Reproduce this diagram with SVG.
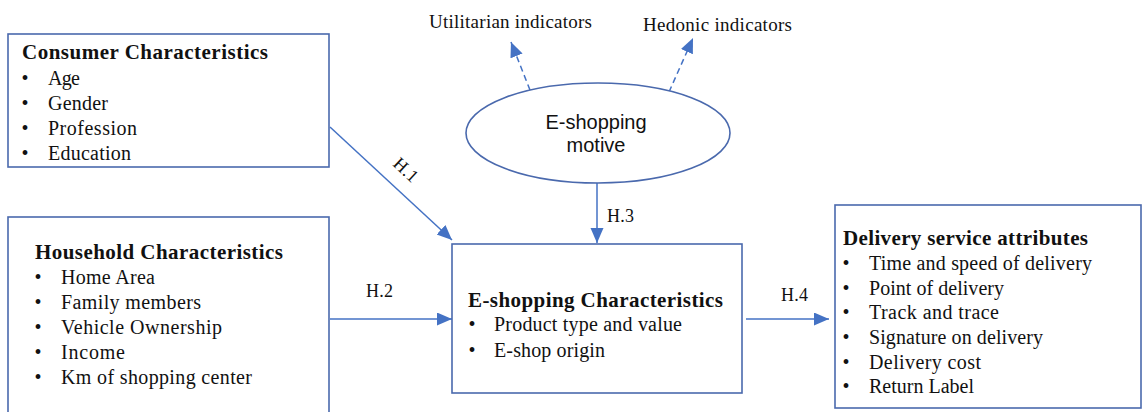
<svg xmlns="http://www.w3.org/2000/svg" width="1142" height="412" viewBox="0 0 1142 412">
<style>
.box{fill:#fff;stroke:#4A69AD;stroke-width:1.6}
.t{font-family:"Liberation Serif","Times New Roman",serif;font-size:20px;fill:#111}
.b{font-weight:bold;font-size:21px}
.s{font-family:"Liberation Sans",Arial,sans-serif;font-size:20px;fill:#111}
.ind{font-size:19px}
.lab{font-size:18px}
.con{stroke:#4472C4;stroke-width:1.5;fill:none}
.dash{stroke-dasharray:6 4}
</style>
<defs>
<marker id="ah" markerUnits="userSpaceOnUse" markerWidth="16" markerHeight="14" refX="15" refY="6.5" orient="auto">
<path d="M0,0 L15,6.5 L0,13 z" fill="#4472C4"/>
</marker>
</defs>
<rect width="1142" height="412" fill="#fff"/>
<g id="connectors">
<line class="con" x1="330" y1="127" x2="452" y2="240" marker-end="url(#ah)"/>
<line class="con" x1="330" y1="319" x2="452" y2="319" marker-end="url(#ah)"/>
<line class="con" x1="597" y1="183" x2="597" y2="243" marker-end="url(#ah)"/>
<line class="con" x1="746" y1="319" x2="829" y2="319" marker-end="url(#ah)"/>
<line class="con dash" x1="530" y1="90" x2="511" y2="42" marker-end="url(#ah)"/>
<line class="con dash" x1="669" y1="92" x2="693" y2="38" marker-end="url(#ah)"/>
<text class="t lab" x="0" y="0" transform="translate(392,165) rotate(43)" textLength="27" lengthAdjust="spacing">H.1</text>
<text class="t lab" x="366" y="297" textLength="27" lengthAdjust="spacing">H.2</text>
<text class="t lab" x="607" y="222" textLength="27" lengthAdjust="spacing">H.3</text>
<text class="t lab" x="781" y="301" textLength="27" lengthAdjust="spacing">H.4</text>
</g>
<g id="consumer">
<rect class="box" x="8" y="34" width="321" height="133"/>
<text class="t b" x="22" y="59" textLength="246" lengthAdjust="spacing">Consumer Characteristics</text>
<text class="t" x="25" y="85" text-anchor="middle">•</text>
<text class="t" x="25" y="110" text-anchor="middle">•</text>
<text class="t" x="25" y="135" text-anchor="middle">•</text>
<text class="t" x="25" y="160" text-anchor="middle">•</text>
<text class="t" x="48" y="85" textLength="32" lengthAdjust="spacing">Age</text>
<text class="t" x="48" y="110" textLength="60" lengthAdjust="spacing">Gender</text>
<text class="t" x="48" y="135" textLength="89" lengthAdjust="spacing">Profession</text>
<text class="t" x="48" y="160" textLength="83" lengthAdjust="spacing">Education</text>
</g>
<g id="household">
<rect class="box" x="8" y="217" width="321" height="205"/>
<text class="t b" x="35" y="259" textLength="248" lengthAdjust="spacing">Household Characteristics</text>
<text class="t" x="38" y="284" text-anchor="middle">•</text>
<text class="t" x="38" y="309" text-anchor="middle">•</text>
<text class="t" x="38" y="334" text-anchor="middle">•</text>
<text class="t" x="38" y="359" text-anchor="middle">•</text>
<text class="t" x="38" y="384" text-anchor="middle">•</text>
<text class="t" x="61" y="284" textLength="94" lengthAdjust="spacing">Home Area</text>
<text class="t" x="61" y="309" textLength="140" lengthAdjust="spacing">Family members</text>
<text class="t" x="61" y="334" textLength="161" lengthAdjust="spacing">Vehicle Ownership</text>
<text class="t" x="61" y="359" textLength="64" lengthAdjust="spacing">Income</text>
<text class="t" x="61" y="384" textLength="191" lengthAdjust="spacing">Km of shopping center</text>
</g>
<g id="motive">
<ellipse class="box" cx="598" cy="133" rx="132" ry="50"/>
<text class="s" x="596" y="129" text-anchor="middle">E-shopping</text>
<text class="s" x="596" y="152" text-anchor="middle">motive</text>
</g>
<g id="utilitarian">
<text class="t ind" x="429" y="28" textLength="163" lengthAdjust="spacing">Utilitarian  indicators</text>
</g>
<g id="hedonic">
<text class="t ind" x="643" y="31" textLength="149" lengthAdjust="spacing">Hedonic indicators</text>
</g>
<g id="eshopping">
<rect class="box" x="452" y="244" width="290" height="149"/>
<text class="t b" x="468" y="307" textLength="255" lengthAdjust="spacing">E-shopping Characteristics</text>
<text class="t" x="472" y="331" text-anchor="middle">•</text>
<text class="t" x="472" y="357" text-anchor="middle">•</text>
<text class="t" x="494" y="331" textLength="188" lengthAdjust="spacing">Product type and value</text>
<text class="t" x="494" y="357" textLength="111" lengthAdjust="spacing">E-shop origin</text>
</g>
<g id="delivery">
<rect class="box" x="835" y="205" width="306" height="203"/>
<text class="t b" x="843" y="245" textLength="245" lengthAdjust="spacing">Delivery service attributes</text>
<text class="t" x="846" y="270" text-anchor="middle">•</text>
<text class="t" x="846" y="294.5" text-anchor="middle">•</text>
<text class="t" x="846" y="319" text-anchor="middle">•</text>
<text class="t" x="846" y="344" text-anchor="middle">•</text>
<text class="t" x="846" y="368.5" text-anchor="middle">•</text>
<text class="t" x="846" y="393" text-anchor="middle">•</text>
<text class="t" x="869" y="270" textLength="223" lengthAdjust="spacing">Time and speed of delivery</text>
<text class="t" x="869" y="294.5" textLength="135" lengthAdjust="spacing">Point of delivery</text>
<text class="t" x="869" y="319" textLength="130" lengthAdjust="spacing">Track and trace</text>
<text class="t" x="869" y="344" textLength="174" lengthAdjust="spacing">Signature on delivery</text>
<text class="t" x="869" y="368.5" textLength="112" lengthAdjust="spacing">Delivery cost</text>
<text class="t" x="869" y="393" textLength="105" lengthAdjust="spacing">Return Label</text>
</g>
</svg>
